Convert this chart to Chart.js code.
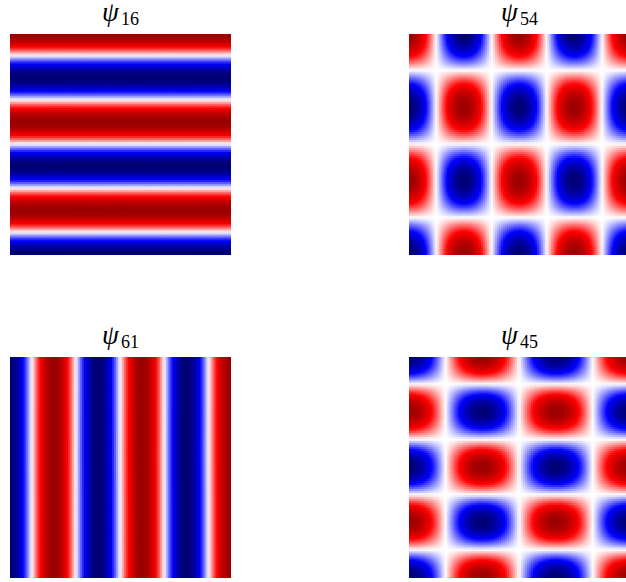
<!DOCTYPE html>
<html>
<head>
<meta charset="utf-8">
<script src="https://cdn.jsdelivr.net/npm/chart.js@4.4.1/dist/chart.umd.min.js"></script>
<style>
  html, body { margin: 0; padding: 0; background: #fff; width: 626px; height: 582px; overflow: hidden; }
  .panel { position: absolute; width: 221px; height: 221px; }
  .title {
    position: absolute; width: 221px; height: 30px; line-height: 30px; text-align: center; white-space: nowrap;
    font-family: "Liberation Serif", "DejaVu Serif", serif; color: #000;
  }
  .title i { font-size: 27px; }
  .title sub { font-style: normal; font-size: 18px; line-height: 0; vertical-align: -4px; margin-left: 2px; }
</style>
</head>
<body>

<script>
// mode labels and indices of the four eigenfunctions
var titles = ['16', '54', '61', '45'];
var modeX  = [1, 5, 6, 4];     // index along x (columns)
var modeY  = [6, 4, 1, 5];     // index along y (rows, from the top)
var signs  = [1, 1, -1, -1];   // sign of the eigenvector as plotted
var vmax = 1.12;               // colour limits are +-vmax, a bit wider than the data

var panelLeft = [10, 409, 10, 409];
var panelTop  = [34, 34, 357, 357];
var N = 110;                    // cells per side of each image

// matplotlib 'seismic' colormap
var seismic = [[0, 0, 0.3], [0, 0, 1], [1, 1, 1], [1, 0, 0], [0.5, 0, 0]];
function cmap(v) {
    var t = (Math.max(-1, Math.min(1, v / vmax)) + 1) / 2 * 4;
    var i = Math.min(3, Math.floor(t)), f = t - i;
    var a = seismic[i], b = seismic[i + 1];
    return 'rgb(' + Math.round(255 * (a[0] + (b[0] - a[0]) * f)) + ',' +
                    Math.round(255 * (a[1] + (b[1] - a[1]) * f)) + ',' +
                    Math.round(255 * (a[2] + (b[2] - a[2]) * f)) + ')';
}

function makePanel(k) {
    var wrap = document.createElement('div');
    wrap.className = 'panel';
    wrap.style.left = panelLeft[k] + 'px';
    wrap.style.top = panelTop[k] + 'px';
    var canvas = document.createElement('canvas');
    canvas.width = 221; canvas.height = 221;
    wrap.appendChild(canvas);
    document.body.appendChild(wrap);

    var title = document.createElement('div');
    title.className = 'title';
    title.style.left = panelLeft[k] + 'px';
    title.style.top = (panelTop[k] - 37) + 'px';
    title.innerHTML = '<i>\u03c8</i><sub>' + titles[k] + '</sub>';
    document.body.appendChild(title);

    var pts = [], cols = [];
    for (var r = 0; r < N; r++) {
        for (var c = 0; c < N; c++) {
            var x = (c + 0.5) / N, y = (r + 0.5) / N;
            var v = signs[k] * Math.cos((modeX[k] - 1) * Math.PI * x) * Math.cos((modeY[k] - 1) * Math.PI * y);
            pts.push({x: x, y: y});
            cols.push(cmap(v));
        }
    }
    var cell = 221 / N;
    new Chart(canvas.getContext('2d'), {
        type: 'scatter',
        data: {
            datasets: [{
                data: pts,
                pointStyle: 'rect',
                pointRadius: (cell / 2 + 0.45) / Math.SQRT1_2,
                pointBorderWidth: 0,
                pointBackgroundColor: cols,
                pointBorderColor: 'rgba(0,0,0,0)'
            }]
        },
        options: {
            responsive: false,
            animation: false,
            events: [],
            layout: { padding: 0, autoPadding: false },
            plugins: { legend: { display: false }, tooltip: { enabled: false } },
            scales: {
                x: { type: 'linear', min: 0, max: 1, display: false },
                y: { type: 'linear', min: 0, max: 1, reverse: true, display: false }
            }
        }
    });
}

for (var k = 0; k < titles.length; k++) makePanel(k);
</script>
</body>
</html>
